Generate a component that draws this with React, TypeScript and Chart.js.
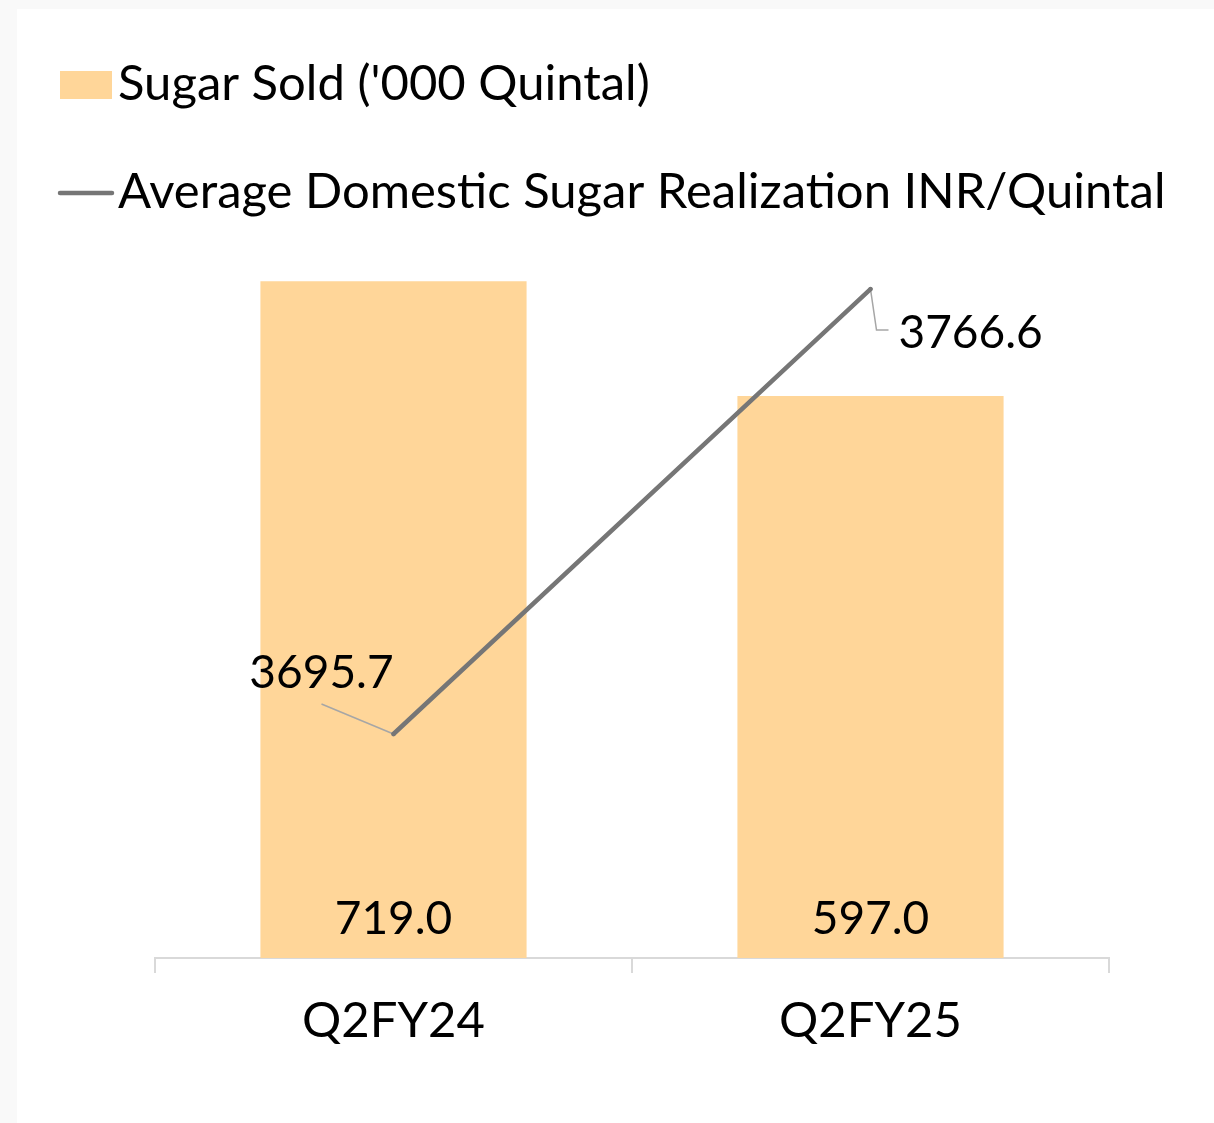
import React, { useEffect, useRef } from "react";
import { Chart, registerables } from "chart.js";

Chart.register(...registerables);

const categories = ["Q2FY24", "Q2FY25"];
const sugarSold = [719.0, 597.0];
const realization = [3695.7, 3766.6];
const seriesNames = [
  "Sugar Sold ('000 Quintal)",
  "Average Domestic Sugar Realization INR/Quintal",
];

const FONT = "Lato, 'Open Sans', sans-serif";
const FONT_SIZE = 46;
const LEGEND_FONT_SIZE = 49;
const AXIS_FONT_SIZE = 49;
const BAR_COLOR = "#FFD699";
const LINE_COLOR = "#767676";
const LEADER_COLOR = "#A6A6A6";

const customPlugin = {
  id: "customLabels",
  afterDatasetDraw(chart: any, args: any) {
    if (args.index !== 0) return;
    const meta = chart.getDatasetMeta(1);
    const p0 = meta.data[0];
    const p1 = meta.data[1];
    const ctx = chart.ctx;
    ctx.save();
    ctx.strokeStyle = LEADER_COLOR;
    ctx.lineWidth = 1.5;
    ctx.beginPath();
    ctx.moveTo(p0.x - 72, p0.y - 30);
    ctx.lineTo(p0.x, p0.y);
    ctx.stroke();
    ctx.beginPath();
    ctx.moveTo(p1.x, p1.y);
    ctx.lineTo(p1.x + 6, p1.y + 41);
    ctx.lineTo(p1.x + 18, p1.y + 41);
    ctx.stroke();
    ctx.restore();
  },
  afterDatasetsDraw(chart: any) {
    const ctx = chart.ctx;
    ctx.save();
    ctx.font = `${FONT_SIZE}px ${FONT}`;
    ctx.fillStyle = "#000";
    ctx.textBaseline = "alphabetic";
    const barMeta = chart.getDatasetMeta(0);
    barMeta.data.forEach((el: any, i: number) => {
      ctx.textAlign = "center";
      ctx.fillText(sugarSold[i].toFixed(1), el.x, el.base - 24);
    });
    const lineMeta = chart.getDatasetMeta(1);
    const p0 = lineMeta.data[0];
    const p1 = lineMeta.data[1];
    ctx.textAlign = "center";
    ctx.fillText(realization[0].toFixed(1), p0.x - 72, p0.y - 46);
    ctx.textAlign = "left";
    ctx.fillText(realization[1].toFixed(1), p1.x + 28, p1.y + 59);
    ctx.restore();
  },
  afterDraw(chart: any) {
    const ctx = chart.ctx;
    ctx.save();
    ctx.font = `${LEGEND_FONT_SIZE}px ${FONT}`;
    ctx.textAlign = "left";
    ctx.textBaseline = "alphabetic";
    ctx.fillStyle = BAR_COLOR;
    ctx.fillRect(60, 71, 52, 28);
    ctx.fillStyle = "#000";
    ctx.fillText(seriesNames[0], 118, 100);
    ctx.strokeStyle = LINE_COLOR;
    ctx.lineWidth = 4.5;
    ctx.lineCap = "round";
    ctx.beginPath();
    ctx.moveTo(60, 193);
    ctx.lineTo(112, 193);
    ctx.stroke();
    ctx.fillText(seriesNames[1], 118, 208);
    ctx.restore();
  },
};

export default function App() {
  const canvasRef = useRef<HTMLCanvasElement | null>(null);

  useEffect(() => {
    if (!canvasRef.current) return;
    const chart = new Chart(canvasRef.current, {
      type: "bar",
      data: {
        labels: categories,
        datasets: [
          {
            type: "bar",
            label: seriesNames[0],
            data: sugarSold,
            backgroundColor: BAR_COLOR,
            borderWidth: 0,
            barPercentage: 1,
            categoryPercentage: 0.558,
            yAxisID: "y",
            order: 1,
          },
          {
            type: "line",
            label: seriesNames[1],
            data: realization,
            borderColor: LINE_COLOR,
            backgroundColor: LINE_COLOR,
            borderWidth: 4.5,
            borderCapStyle: "round",
            pointRadius: 2.2,
            pointBorderWidth: 0,
            tension: 0,
            yAxisID: "y1",
            order: 0,
          },
        ],
      } as any,
      options: {
        animation: false,
        responsive: true,
        maintainAspectRatio: false,
        layout: { padding: { left: 155, right: 105, top: 205, bottom: 0 } },
        plugins: {
          legend: { display: false },
          tooltip: { enabled: false },
        },
        scales: {
          x: {
            offset: true,
            grid: {
              offset: true,
              drawOnChartArea: false,
              drawTicks: true,
              tickLength: 15,
              color: "#D9D9D9",
              lineWidth: 2,
            },
            border: { display: true, color: "#D9D9D9", width: 2 },
            ticks: {
              color: "#000",
              font: { family: FONT, size: AXIS_FONT_SIZE },
              padding: 19,
              maxRotation: 0,
            },
            afterFit(scale: any) {
              scale.height = 165;
            },
          },
          y: { display: false, min: 0, max: 800 },
          y1: { display: false, min: 3660, max: 3780, position: "right" },
        },
      } as any,
      plugins: [customPlugin],
    });
    return () => chart.destroy();
  }, []);

  return (
    <div
      style={{
        position: "fixed",
        left: 0,
        top: 0,
        width: 1214,
        height: 1123,
        background: "#F9F9F9",
      }}
    >
      <div
        style={{
          position: "absolute",
          left: 17,
          top: 9,
          width: 1197,
          height: 1114,
          background: "#FFFFFF",
        }}
      />
      <div style={{ position: "absolute", left: 0, top: 0, width: 1214, height: 1123 }}>
        <canvas ref={canvasRef} style={{ display: "block" }} />
      </div>
    </div>
  );
}
